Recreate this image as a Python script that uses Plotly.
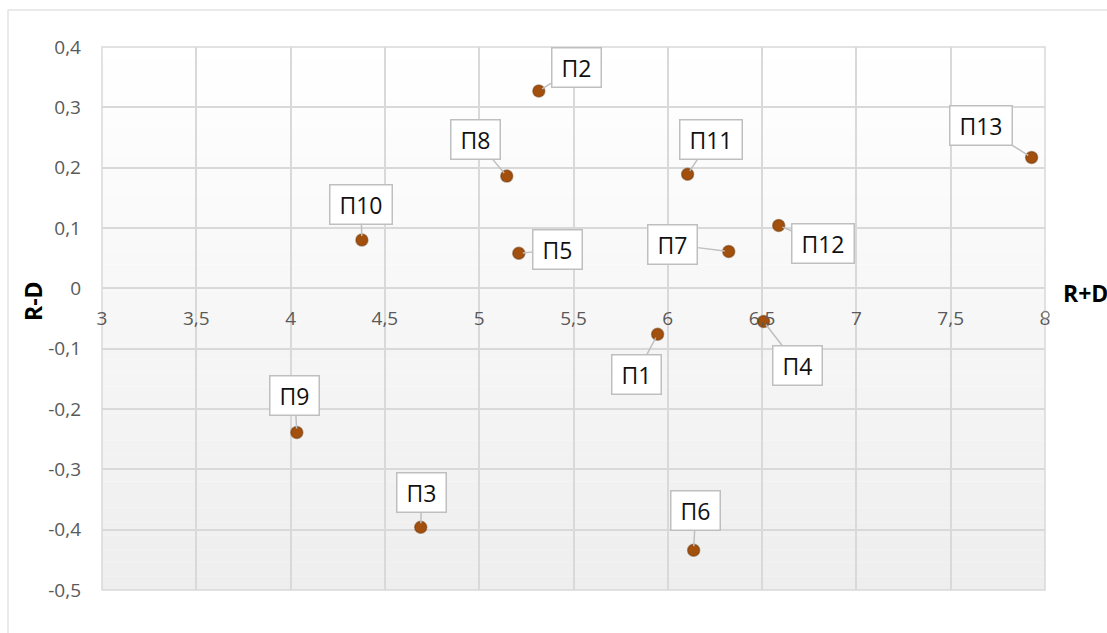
import plotly.graph_objects as go

# Projects positioned by R+D (x) and R-D (y)
labels = ["П1", "П2", "П3", "П4", "П5", "П6", "П7",
          "П8", "П9", "П10", "П11", "П12", "П13"]
r_plus_d = [5.946, 5.316, 4.69, 6.508, 5.21, 6.137, 6.323,
            5.146, 4.033, 4.378, 6.105, 6.588, 7.929]
r_minus_d = [-0.076, 0.327, -0.396, -0.055, 0.058, -0.434, 0.061,
             0.186, -0.239, 0.080, 0.189, 0.104, 0.217]

x_ticks = [3, 3.5, 4, 4.5, 5, 5.5, 6, 6.5, 7, 7.5, 8]
x_tick_text = ["3", "3,5", "4", "4,5", "5", "5,5", "6", "6,5", "7", "7,5", "8"]
y_ticks = [0.4, 0.3, 0.2, 0.1, 0, -0.1, -0.2, -0.3, -0.4, -0.5]
y_tick_text = ["0,4", "0,3", "0,2", "0,1", "0", "-0,1", "-0,2", "-0,3", "-0,4", "-0,5"]

# Pixel offsets of each callout box relative to its point
callout_offsets = [(-21, 40), (38, -24), (1, -35), (34, 44), (39, -4), (2, -40), (-56, -7),
                   (-31, -37), (-2, -37), (-1, -36), (23, -35), (44, 18), (-51, -32)]

X_RANGE = [3, 8]
Y_RANGE = [-0.5, 0.4]
GRID = "#d9d9d9"
TICK_FONT = dict(family="Open Sans", size=19, color="#595959")

fig = go.Figure()

fig.add_trace(go.Scatter(
    x=r_plus_d, y=r_minus_d, mode="markers",
    marker=dict(size=12, color="#A3500F",
                line=dict(color="rgba(110,55,10,0.5)", width=1.5)),
    hoverinfo="text", text=labels, showlegend=False,
))

annotations = []
for name, xv, yv, (ox, oy) in zip(labels, r_plus_d, r_minus_d, callout_offsets):
    annotations.append(dict(
        x=xv, y=yv, xref="x", yref="y", text=" " + name + " ",
        showarrow=True, ax=ox, ay=oy, arrowhead=0, arrowwidth=1.5,
        arrowcolor="#bfbfbf", standoff=4,
        bgcolor="white", bordercolor="#bfbfbf", borderwidth=1.5, borderpad=3,
        font=dict(family="Open Sans", size=23, color="#111111"),
    ))

# axis titles
annotations.append(dict(
    text="<b>R-D</b>", xref="paper", yref="paper",
    x=(33 - 102) / 943, y=(590 - 301) / 543, showarrow=False, textangle=-90,
    xanchor="center", yanchor="middle",
    font=dict(family="Open Sans", size=23, color="#000000"),
))
annotations.append(dict(
    text="<b>R+D</b>", xref="paper", yref="paper",
    x=(1061 - 102) / 943, y=(590 - 293) / 543, showarrow=False,
    xanchor="left", yanchor="middle",
    font=dict(family="Open Sans", size=23, color="#000000"),
))

# soft vertical gradient behind the plot area
shapes = []
n_bands = 40
for i in range(n_bands):
    t = (i + 0.5) / n_bands
    v = int(round(255 - 17 * t))
    shapes.append(dict(
        type="rect", xref="x domain", yref="y domain",
        x0=0, x1=1, y0=1 - (i + 1) / n_bands, y1=1 - i / n_bands,
        fillcolor=f"rgb({v},{v},{v})", line=dict(width=0), layer="below",
    ))
# frame around plot area
shapes.append(dict(type="rect", xref="x domain", yref="y domain", x0=0, x1=1, y0=0, y1=1,
                   line=dict(color=GRID, width=1.5), layer="below"))
# chart outline (left and top edges)
shapes.append(dict(type="line", xref="paper", yref="paper",
                   x0=(8 - 102) / 943, x1=(8 - 102) / 943, y0=(590 - 10) / 543, y1=-0.2,
                   line=dict(color="#e3e3e3", width=1.5)))
shapes.append(dict(type="line", xref="paper", yref="paper",
                   x0=(8 - 102) / 943, x1=1.2, y0=(590 - 10) / 543, y1=(590 - 10) / 543,
                   line=dict(color="#e3e3e3", width=1.5)))
# small handle at the right edge
shapes.append(dict(type="circle", xref="paper", yref="paper",
                   x0=(1042 - 102) / 943, x1=(1049 - 102) / 943,
                   y0=(590 - 318.5) / 543, y1=(590 - 311.5) / 543,
                   fillcolor="white", line=dict(color="#7f7f7f", width=1.5)))

zero_pos = (0 - Y_RANGE[0]) / (Y_RANGE[1] - Y_RANGE[0])

fig.update_layout(
    width=1107, height=633,
    margin=dict(l=102, r=62, t=47, b=43),
    paper_bgcolor="white", plot_bgcolor="rgba(0,0,0,0)",
    showlegend=False,
    annotations=annotations,
    shapes=shapes,
    xaxis=dict(
        range=X_RANGE, tickvals=x_ticks, ticktext=x_tick_text,
        showgrid=True, gridcolor=GRID, gridwidth=1.5, zeroline=False,
        anchor="free", position=zero_pos,
        showline=True, linecolor=GRID, linewidth=1.5,
        ticks="", ticklabelstandoff=13, tickfont=TICK_FONT,
    ),
    yaxis=dict(
        range=Y_RANGE, tickvals=y_ticks, ticktext=y_tick_text,
        showgrid=True, gridcolor=GRID, gridwidth=1.5, zeroline=False,
        showline=False, ticks="", ticklabelstandoff=20, tickfont=TICK_FONT,
    ),
)

fig.write_html("out.html")
